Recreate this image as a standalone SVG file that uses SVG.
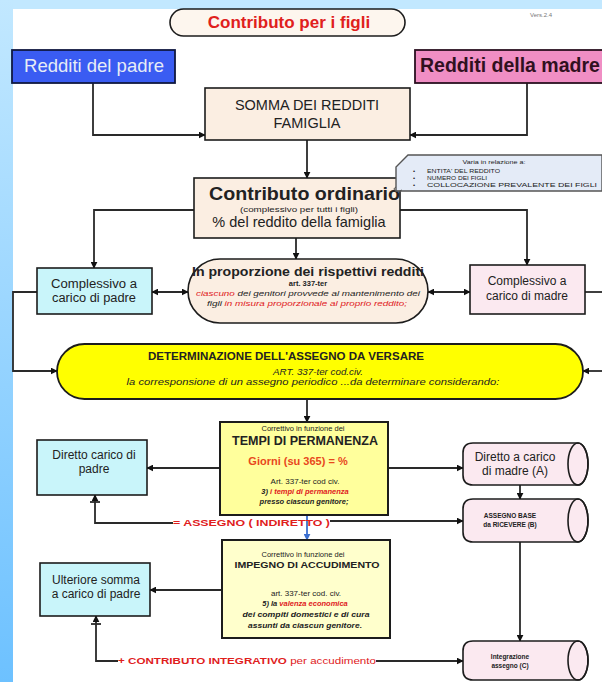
<svg xmlns="http://www.w3.org/2000/svg" width="602" height="682" viewBox="0 0 602 682">
<defs>
<linearGradient id="side" x1="0" y1="0" x2="0" y2="1">
<stop offset="0" stop-color="#c2e8ff"/>
<stop offset="1" stop-color="#6dc1ff"/>
</linearGradient>
<marker id="ah" viewBox="0 0 10 10" refX="9" refY="5" markerWidth="7" markerHeight="7" orient="auto-start-reverse" markerUnits="userSpaceOnUse">
<path d="M0,0 L10,5 L0,10 Z" fill="#111"/>
</marker>
<marker id="ahb" viewBox="0 0 10 10" refX="9" refY="5" markerWidth="7" markerHeight="7" orient="auto" markerUnits="userSpaceOnUse">
<path d="M0,0 L10,5 L0,10 Z" fill="#3a6fd0"/>
</marker>
</defs>
<style>
text{font-family:"Liberation Sans",Arial,sans-serif;fill:#222}
.box{stroke:#1c1c1c;stroke-width:1.6}
.peach{fill:#fbeee2}
.cyan{fill:#c9f5fa}
.pink{fill:#fbe9f0}
.c{text-anchor:middle}
.b{font-weight:bold}
.i{font-style:italic}
.red{fill:#e0201c}
.or{fill:#e8481c}
.ln{fill:none;stroke:#2a2a2a;stroke-width:1.8}
</style>
<rect width="602" height="682" fill="#fff"/>
<rect x="0" y="0" width="602" height="9" fill="#c2e8ff"/>
<rect x="0" y="0" width="13" height="682" fill="url(#side)"/>

<g id="connectors">
<path class="ln" d="M93,83 V135 H205" marker-end="url(#ah)"/>
<path class="ln" d="M527,83 V135 H410" marker-end="url(#ah)"/>
<path class="ln" d="M307,140 V178" marker-end="url(#ah)"/>
<path class="ln" d="M194,210 H94 V268" marker-end="url(#ah)"/>
<path class="ln" d="M400,210 H527 V265" marker-end="url(#ah)"/>
<path class="ln" d="M296,238 V259" marker-end="url(#ah)"/>
<path class="ln" d="M152,292 H188" marker-start="url(#ah)" marker-end="url(#ah)"/>
<path class="ln" d="M428,292 H470" marker-start="url(#ah)" marker-end="url(#ah)"/>
<path class="ln" d="M37,292 H13 V371 H57" marker-end="url(#ah)"/>
<path class="ln" d="M585,292 H602"/>
<path class="ln" d="M602,371 H583" marker-end="url(#ah)"/>
<path class="ln" d="M307,400 V422" marker-end="url(#ah)"/>
<path class="ln" d="M220,468 H147" marker-end="url(#ah)"/>
<path class="ln" d="M388,468 H463" marker-end="url(#ah)"/>
<path class="ln" d="M520,485 V499" marker-end="url(#ah)"/>
<path class="ln" d="M173,523 H95 V495" marker-end="url(#ah)"/>
<path class="ln" d="M90,502 H100"/>
<path class="ln" d="M330,521 H463" marker-end="url(#ah)"/>
<path fill="none" stroke="#3a6fd0" stroke-width="1.8" d="M307,515 V540" marker-end="url(#ahb)"/>
<path class="ln" d="M222,590 H150" marker-end="url(#ah)"/>
<path class="ln" d="M118,661 H96 V616" marker-end="url(#ah)"/>
<path class="ln" d="M91,624 H101"/>
<path class="ln" d="M376,661 H463" marker-end="url(#ah)"/>
<path class="ln" d="M520,542 V641" marker-end="url(#ah)"/>
</g>

<g id="title">
<rect x="170" y="9" width="235" height="27" rx="13.5" fill="#fdf6ee" stroke="#1c1c1c" stroke-width="1.6"/>
<text x="289" y="28" class="c b red" font-size="17">Contributo per i figli</text>
<text x="530" y="17" font-size="6" style="fill:#777">Vers.2.4</text>
</g>

<g id="redditi-padre">
<rect x="12" y="50" width="163" height="33" fill="#3a5cf2" stroke="#101840" stroke-width="1.8"/>
<text x="94" y="72" class="c" font-size="18.5" style="fill:#e6ecf6">Redditi del padre</text>
</g>

<g id="redditi-madre">
<rect x="415" y="50" width="190" height="33" fill="#f08ec4" stroke="#2a1020" stroke-width="1.8"/>
<text x="420" y="72" class="b" font-size="19.5" style="fill:#301020">Redditi della madre</text>
</g>

<g id="somma">
<rect x="205" y="88" width="205" height="52" class="box peach"/>
<text x="307" y="110" class="c" font-size="14.5">SOMMA DEI REDDITI</text>
<text x="307" y="128" class="c" font-size="14.5">FAMIGLIA</text>
</g>

<g id="contributo-ordinario">
<rect x="194" y="178" width="206" height="60" class="box peach"/>
<text x="209" y="200" class="b" font-size="19" textLength="191" lengthAdjust="spacingAndGlyphs">Contributo ordinario</text>
<text x="299" y="212" class="c" font-size="7" textLength="118" lengthAdjust="spacingAndGlyphs">(complessivo per tutti i figli)</text>
<text x="299" y="227" class="c" font-size="14.5">% del reddito della famiglia</text>
</g>

<g id="nota">
<path d="M408,155 H602 V191 H396 V167 Z" fill="#e4ebf7" stroke="#555" stroke-width="1.4"/>
<path d="M396,187 q-4,2 0,4 q3,1 6,-1" fill="none" stroke="#555" stroke-width="1"/>
<text x="494" y="164" class="c" font-size="6" textLength="63" lengthAdjust="spacingAndGlyphs">Varia in relazione a:</text>
<text x="413" y="173" font-size="6">•</text>
<text x="427" y="173" font-size="6" textLength="73" lengthAdjust="spacingAndGlyphs">ENTITA' DEL REDDITO</text>
<text x="413" y="180" font-size="6">•</text>
<text x="427" y="180" font-size="6" textLength="60" lengthAdjust="spacingAndGlyphs">NUMERO DEI FIGLI</text>
<text x="413" y="187" font-size="6">•</text>
<text x="427" y="187" font-size="6" textLength="170" lengthAdjust="spacingAndGlyphs">COLLOCAZIONE PREVALENTE DEI FIGLI</text>
</g>

<g id="complessivo-padre">
<rect x="37" y="268" width="115" height="46" class="box cyan"/>
<text x="94" y="288" class="c" font-size="12" textLength="86" lengthAdjust="spacingAndGlyphs">Complessivo a</text>
<text x="94" y="302" class="c" font-size="12" textLength="84" lengthAdjust="spacingAndGlyphs">carico di padre</text>
</g>

<g id="proporzione">
<rect x="188" y="259" width="240" height="64" rx="32" class="box peach"/>
<text x="308" y="276" class="c b" font-size="13" textLength="232" lengthAdjust="spacingAndGlyphs">In proporzione dei rispettivi redditi</text>
<text x="308" y="286" class="c b" font-size="7.5">art. 337-ter</text>
<text x="308" y="296" class="c i" font-size="8" textLength="224" lengthAdjust="spacingAndGlyphs"><tspan class="red">ciascuno</tspan> dei genitori provvede al mantenimento dei</text>
<text x="307" y="306" class="c i" font-size="8" textLength="200" lengthAdjust="spacingAndGlyphs">figli <tspan class="red">in misura proporzionale al proprio reddito;</tspan></text>
</g>

<g id="complessivo-madre">
<rect x="470" y="265" width="115" height="49" class="box pink"/>
<text x="527" y="285" class="c" font-size="12">Complessivo a</text>
<text x="527" y="300" class="c" font-size="12">carico di madre</text>
</g>

<g id="determinazione">
<rect x="57" y="344" width="526" height="55" rx="27.5" fill="#ffff00" stroke="#1c1c1c" stroke-width="1.8"/>
<text x="286" y="360" class="c b" font-size="10" textLength="276" lengthAdjust="spacingAndGlyphs">DETERMINAZIONE  DELL'ASSEGNO DA VERSARE</text>
<text x="318" y="375" class="c i" font-size="8.5" textLength="90" lengthAdjust="spacingAndGlyphs">ART. 337-ter cod.civ.</text>
<text x="313" y="385" class="c i" font-size="8.5" textLength="373" lengthAdjust="spacingAndGlyphs">la corresponsione di un assegno periodico ...da determinare considerando:</text>
</g>

<g id="tempi">
<rect x="220" y="422" width="168" height="93" fill="#ffff9c" stroke="#1c1c1c" stroke-width="2"/>
<text x="303" y="431" class="c" font-size="7.5">Correttivo in funzione dei</text>
<text x="305" y="445" class="c b" font-size="12.5">TEMPI DI PERMANENZA</text>
<text x="298" y="465" class="c b or" font-size="11">Giorni  (su 365) = %</text>
<text x="305" y="484" class="c" font-size="8">Art. 337-ter cod civ.</text>
<text x="305" y="494" class="c i b" font-size="7.5">3) <tspan class="red">i tempi di permanenza</tspan></text>
<text x="304" y="504" class="c i b" font-size="7.5">presso ciascun genitore;</text>
</g>

<g id="diretto-padre">
<rect x="37" y="440" width="110" height="55" class="box cyan"/>
<text x="94" y="459" class="c" font-size="12">Diretto  carico di</text>
<text x="94" y="473" class="c" font-size="12">padre</text>
</g>

<g id="diretto-madre">
<path d="M473,443 H578 A10,21 0 0 1 578,485 H473 Q463,485 463,475 V453 Q463,443 473,443 Z" class="box pink"/>
<ellipse cx="578" cy="464" rx="10" ry="21" fill="none" stroke="#1c1c1c" stroke-width="1.6"/>
<text x="515" y="461" class="c" font-size="12">Diretto a carico</text>
<text x="515" y="475" class="c" font-size="12">di madre (A)</text>
</g>

<g id="assegno-base">
<path d="M473,499 H578 A10,21.5 0 0 1 578,542 H473 Q463,542 463,532 V509 Q463,499 473,499 Z" class="box pink"/>
<ellipse cx="578" cy="520.5" rx="10" ry="21.5" fill="none" stroke="#1c1c1c" stroke-width="1.6"/>
<text x="510" y="518" class="c b" font-size="6.5">ASSEGNO BASE</text>
<text x="510" y="527" class="c b" font-size="6.5">da RICEVERE (B)</text>
</g>

<g id="assegno-indiretto">
<text x="173" y="526" class="b red" font-size="9.5" textLength="157" lengthAdjust="spacingAndGlyphs">= ASSEGNO (  INDIRETTO )</text>
</g>

<g id="accudimento">
<rect x="222" y="540" width="168" height="98" fill="#ffffcc" stroke="#1c1c1c" stroke-width="2"/>
<text x="303" y="557" class="c" font-size="7.5">Correttivo in funzione dei</text>
<text x="307" y="568" class="c b" font-size="9.5" textLength="145" lengthAdjust="spacingAndGlyphs">IMPEGNO DI ACCUDIMENTO</text>
<text x="306" y="596" class="c" font-size="8">art. 337-ter  cod. civ.</text>
<text x="305" y="606" class="c i b" font-size="7.5">5) la <tspan class="red">valenza economica</tspan></text>
<text x="306" y="617" class="c i b" font-size="8" textLength="127" lengthAdjust="spacingAndGlyphs">dei compiti domestici e di cura</text>
<text x="305" y="628" class="c i b" font-size="8" textLength="114" lengthAdjust="spacingAndGlyphs">assunti da ciascun genitore.</text>
</g>

<g id="ulteriore-padre">
<rect x="40" y="563" width="110" height="53" class="box cyan"/>
<text x="96" y="584" class="c" font-size="12">Ulteriore somma</text>
<text x="96" y="598" class="c" font-size="12">a carico di padre</text>
</g>

<g id="contributo-integrativo">
<text x="118" y="664" class="red" font-size="9" font-weight="bold" textLength="258" lengthAdjust="spacingAndGlyphs">+ CONTRIBUTO INTEGRATIVO <tspan font-weight="normal">per accudimento</tspan></text>
</g>

<g id="integrazione">
<path d="M473,641 H578 A10,19.5 0 0 1 578,680 H473 Q463,680 463,670 V651 Q463,641 473,641 Z" class="box pink"/>
<ellipse cx="578" cy="660.5" rx="10" ry="19.5" fill="none" stroke="#1c1c1c" stroke-width="1.6"/>
<text x="510" y="659" class="c b" font-size="6.5">Integrazione</text>
<text x="510" y="668" class="c b" font-size="6.5">assegno (C)</text>
</g>
</svg>
